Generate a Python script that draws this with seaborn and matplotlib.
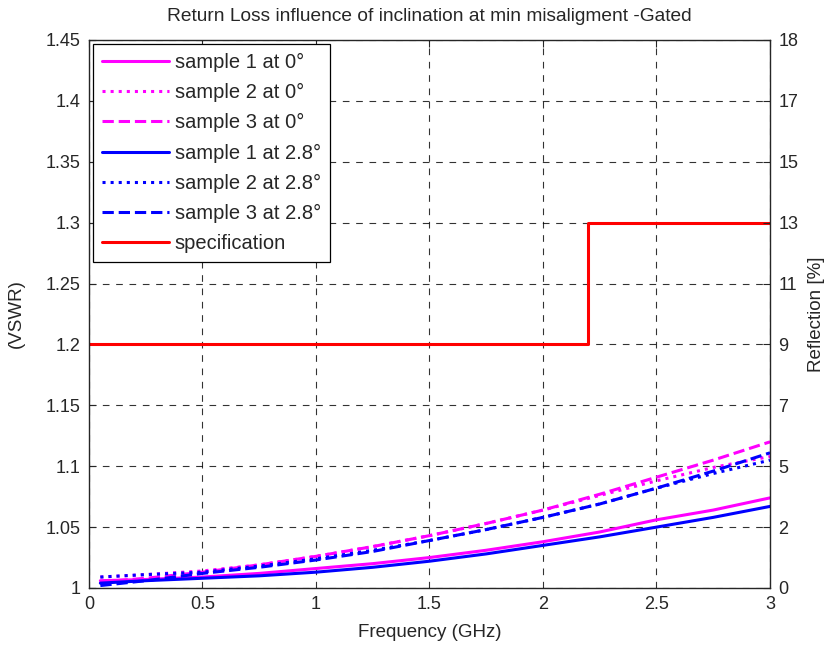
import matplotlib
matplotlib.use("Agg")
import matplotlib.pyplot as plt
import seaborn as sns
import pandas as pd

freq = [0.05, 0.25, 0.5, 0.75, 1.0, 1.25, 1.5, 1.75, 2.0, 2.25, 2.5, 2.75, 3.0]
s1_0 = [1.006, 1.007, 1.009, 1.012, 1.016, 1.020, 1.025, 1.031, 1.038, 1.046, 1.056, 1.064, 1.074]
s2_0 = [1.009, 1.011, 1.014, 1.019, 1.026, 1.034, 1.043, 1.053, 1.064, 1.076, 1.088, 1.099, 1.108]
s3_0 = [1.005, 1.008, 1.013, 1.019, 1.026, 1.034, 1.043, 1.053, 1.064, 1.077, 1.091, 1.105, 1.120]
s1_28 = [1.004, 1.006, 1.008, 1.010, 1.013, 1.017, 1.022, 1.028, 1.035, 1.042, 1.050, 1.058, 1.067]
s2_28 = [1.009, 1.011, 1.013, 1.018, 1.024, 1.031, 1.039, 1.048, 1.058, 1.069, 1.082, 1.094, 1.105]
s3_28 = [1.002, 1.006, 1.012, 1.017, 1.023, 1.030, 1.039, 1.048, 1.058, 1.069, 1.082, 1.096, 1.111]
spec_freq = [0.0, 2.2, 3.0]
spec_vswr = [1.2, 1.3, 1.3]

labels = ["sample 1 at 0°", "sample 2 at 0°", "sample 3 at 0°",
          "sample 1 at 2.8°", "sample 2 at 2.8°", "sample 3 at 2.8°"]
y_ticks = [1.0, 1.05, 1.1, 1.15, 1.2, 1.25, 1.3, 1.35, 1.4, 1.45]
y_tick_labels = ["1", "1.05", "1.1", "1.15", "1.2", "1.25", "1.3", "1.35", "1.4", "1.45"]
refl_labels = ["0", "2", "5", "7", "9", "11", "13", "15", "17", "18"]
x_ticks = [0, 0.5, 1, 1.5, 2, 2.5, 3]
x_tick_labels = ["0", "0.5", "1", "1.5", "2", "2.5", "3"]

sns.set_style("white")
plt.rcParams["font.family"] = ["Liberation Sans", "DejaVu Sans"]
FS = 13

fig = plt.figure(figsize=(8.28, 6.46), dpi=100)
ax = fig.add_axes([89/828, 1-588/646, (770-89)/828, (588-40)/646])

series = [s1_0, s2_0, s3_0, s1_28, s2_28, s3_28]
colors = ["#ff00ff"] * 3 + ["#0000ff"] * 3
styles = ["-", ":", "--", "-", ":", "--"]
for vals, lab, c, ls in zip(series, labels, colors, styles):
    df = pd.DataFrame({"f": freq, "v": vals})
    sns.lineplot(data=df, x="f", y="v", ax=ax, color=c, linestyle=ls,
                 linewidth=2.2, label=lab, errorbar=None)

dspec = pd.DataFrame({"f": spec_freq, "v": spec_vswr})
sns.lineplot(data=dspec, x="f", y="v", ax=ax, color="#ff0000", linewidth=2.2,
             drawstyle="steps-post", label="specification", errorbar=None)

ax.set_xlim(0, 3)
ax.set_ylim(1, 1.45)
ax.set_xticks(x_ticks)
ax.set_xticklabels(x_tick_labels, fontsize=FS)
ax.set_yticks(y_ticks)
ax.set_yticklabels(y_tick_labels, fontsize=FS)
ax.grid(True, color="black", linestyle=(0, (6, 6)), linewidth=0.8, alpha=0.8)
ax.tick_params(direction="in", length=5, width=0.8, top=True, right=False, pad=6)
for s in ax.spines.values():
    s.set_color("black")
    s.set_linewidth(0.9)
ax.set_xlabel("Frequency (GHz)", fontsize=13.5, labelpad=8)
ax.set_ylabel("(VSWR)", fontsize=13.5, labelpad=15)
ax.set_title("Return Loss influence of inclination at min misaligment -Gated",
             fontsize=13.8, pad=14)

ax2 = ax.twinx()
ax2.set_ylim(1, 1.45)
ax2.set_yticks(y_ticks)
ax2.set_yticklabels(refl_labels, fontsize=FS)
ax2.tick_params(direction="in", length=5, width=0.8, pad=6)
ax2.set_ylabel("Reflection [%]", fontsize=13.5, labelpad=7)
ax2.grid(False)

leg = ax.legend(loc="upper left", fontsize=14.5, handlelength=3.3, labelspacing=0.55,
                borderaxespad=0.2, frameon=True, fancybox=False, handletextpad=0.3,
                borderpad=0.45)
leg.get_frame().set_edgecolor("black")
leg.get_frame().set_linewidth(0.9)
leg.get_frame().set_alpha(1)

fig.savefig("out.png", dpi=100)
